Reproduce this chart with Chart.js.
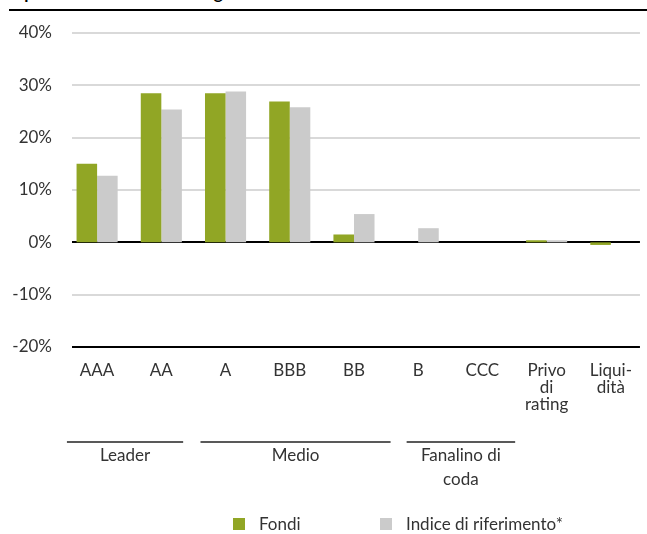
<!DOCTYPE html>
<html>
<head>
<meta charset="utf-8">
<script src="https://cdn.jsdelivr.net/npm/chart.js@4.4.0/dist/chart.umd.min.js"></script>
<style>
html,body{margin:0;padding:0;background:#fff;overflow:hidden}
#wrap{position:relative;width:647px;height:534px;overflow:hidden}
#title{position:absolute;left:9px;top:-16px;font:bold 17px Lato;color:#000;white-space:nowrap;line-height:17px}
#rule{position:absolute;left:9px;right:0;top:9px;height:2px;background:#000}
#c{position:absolute;left:0;top:0}
</style>
</head>
<body>
<div id="wrap">
<div id="title">Ripartizione in base al rating</div>
<div id="rule"></div>
<canvas id="c" width="647" height="534"></canvas>
</div>
<script>
const categories = ['AAA', 'AA', 'A', 'BBB', 'BB', 'B', 'CCC', ['Privo', 'di', 'rating'], ['Liqui-', 'dità']];
const fondi = [15.0, 28.5, 28.5, 26.9, 1.5, 0, 0, 0.4, -0.5];
const indice = [12.7, 25.4, 28.8, 25.8, 5.4, 2.7, 0, 0.4, 0];
const seriesNames = ['Fondi', 'Indice di riferimento*'];
const yTicks = [-20, -10, 0, 10, 20, 30, 40];
const groupNames = [['Leader'], ['Medio'], ['Fanalino di', 'coda']];
const groupMembers = [[0, 1], [2, 4], [5, 6]];

const GREEN = '#91a625';
const GREY = '#cbcbcb';
const TEXT = '#333333';
const FONT = 'Lato';

// layout extents of the group rules, in category steps from the first / last member's centre
const groupExtents = [[-0.47, 0.34], [-0.39, 0.57], [-0.18, 0.51]];

const gridPlugin = {
  id: 'customGrid',
  beforeDatasetsDraw(chart) {
    const { ctx, chartArea: a, scales: { y } } = chart;
    ctx.save();
    y.ticks.forEach(t => {
      const py = Math.round(y.getPixelForValue(t.value));
      const strong = t.value === 0 || t.value === y.min;
      ctx.strokeStyle = strong ? '#000' : '#d9d9d9';
      ctx.lineWidth = strong ? 2.2 : 2;
      ctx.beginPath();
      ctx.moveTo(a.left + 7, py);
      ctx.lineTo(a.right - 3, py);
      ctx.stroke();
    });
    ctx.restore();
  }
};

const groupPlugin = {
  id: 'groups',
  afterDraw(chart) {
    const { ctx, scales: { x } } = chart;
    const step = x.getPixelForValue(1) - x.getPixelForValue(0);
    ctx.save();
    ctx.font = '17px ' + FONT;
    ctx.fillStyle = TEXT;
    ctx.textAlign = 'center';
    ctx.textBaseline = 'alphabetic';
    groupMembers.forEach((m, i) => {
      const x0 = x.getPixelForValue(m[0]) + groupExtents[i][0] * step;
      const x1 = x.getPixelForValue(m[1]) + groupExtents[i][1] * step;
      ctx.strokeStyle = '#222';
      ctx.lineWidth = 1.5;
      ctx.beginPath();
      ctx.moveTo(x0, 442);
      ctx.lineTo(x1, 442);
      ctx.stroke();
      const cx = (x0 + x1) / 2;
      ctx.fillStyle = TEXT;
      groupNames[i].forEach((line, k) => {
        ctx.fillText(line, cx, 461 + k * 24);
      });
    });
    // legend
    const colors = [GREEN, GREY];
    const boxX = [233, 380];
    ctx.textAlign = 'left';
    seriesNames.forEach((n, i) => {
      ctx.fillStyle = colors[i];
      ctx.fillRect(boxX[i], 518, 12, 12);
      ctx.fillStyle = TEXT;
      ctx.fillText(n, boxX[i] + 26, 530);
    });
    ctx.restore();
  }
};

new Chart(document.getElementById('c'), {
  type: 'bar',
  data: {
    labels: categories,
    datasets: [
      { label: seriesNames[0], data: fondi, backgroundColor: GREEN, borderWidth: 0 },
      { label: seriesNames[1], data: indice, backgroundColor: GREY, borderWidth: 0 }
    ]
  },
  options: {
    responsive: false,
    animation: false,
    devicePixelRatio: 1,
    layout: { padding: { top: 33, right: 1, bottom: 0, left: 0 } },
    plugins: { legend: { display: false }, tooltip: { enabled: false } },
    datasets: { bar: { categoryPercentage: 0.64, barPercentage: 1 } },
    scales: {
      x: {
        offset: true,
        grid: { display: false, drawTicks: false },
        border: { display: false },
        ticks: { color: TEXT, font: { family: FONT, size: 17, lineHeight: 1.0 }, padding: 15, maxRotation: 0, autoSkip: false },
        afterFit(s) { s.height = 187; }
      },
      y: {
        min: yTicks[0],
        max: yTicks[yTicks.length - 1],
        afterBuildTicks(s) { s.ticks = yTicks.map(v => ({ value: v })); },
        grid: { display: false, drawTicks: false },
        border: { display: false },
        ticks: { color: TEXT, font: { family: FONT, size: 17 }, padding: 13, callback: v => v + '%' },
        afterFit(s) { s.width = 65; }
      }
    }
  },
  plugins: [gridPlugin, groupPlugin]
});
</script>
</body>
</html>
